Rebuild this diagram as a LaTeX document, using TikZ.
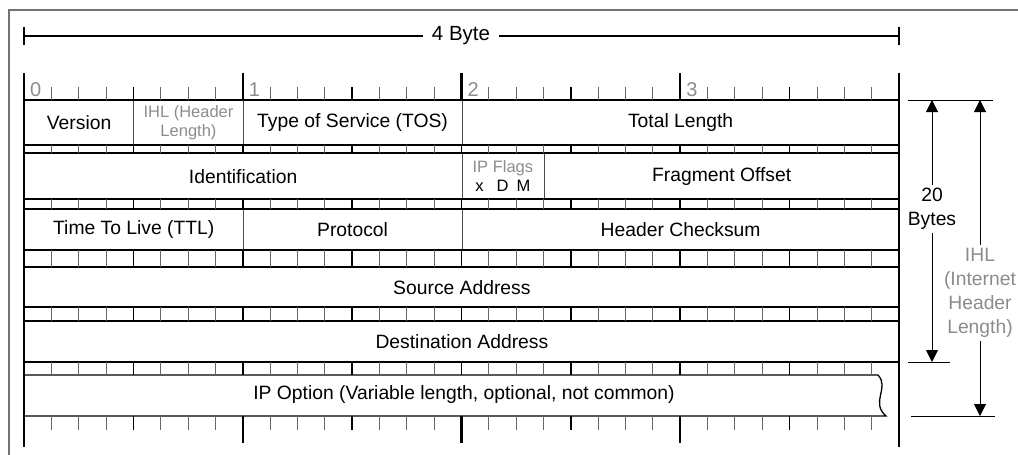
\documentclass[tikz,border=0pt]{standalone}
\usepackage{fontspec}
\setmainfont{Liberation Sans}
\usepackage{tikz}
\usetikzlibrary{arrows.meta}
\usetikzlibrary{positioning}

\newcommand{\bw}{27.34375}
\newcommand{\bitx}[1]{24+#1*\bw}
\newcommand{\fieldbox}[7][]{\node[field,#1,minimum width={#4*\bw},minimum height=#6] (#2) at ({\bitx{#3}},#5) {#7};}

\tikzset{
  field/.style={draw=black!70,line width=0.8pt,inner sep=0pt,anchor=north west,align=center,font=\fontsize{19.3}{22}\selectfont},
  smallt/.style={font=\fontsize{16.5}{19}\selectfont},
  bitno/.style={text=black!45,anchor=base west,inner sep=0pt,font=\fontsize{20}{22}\selectfont},
  tickbit/.style={draw=black!60,line width=0.9pt},
  ticknib/.style={draw=black,line width=1.7pt},
  tickbyte/.style={draw=black,line width=2.3pt},
  rowline/.style={draw=black,line width=1.3pt},
  dimarrow/.style={line width=1pt,{Triangle[width=12pt,length=12pt]}-{Triangle[width=12pt,length=12pt]}},
  dimtext/.style={fill=white,inner sep=3pt,align=center,font=\fontsize{19.3}{24}\selectfont},
}

\begin{document}
\begin{tikzpicture}[x=1pt,y=-1pt]
\useasboundingbox (0,0) rectangle (1018,455);
% frame
\draw[black!55,line width=1.5pt] (9,455) -- (9,10) -- (1018,10);

% width of one word
\coordinate (wl) at (24,36);
\coordinate (wr) at (899,36);
\draw[line width=1.6pt] (wl) -- (wr);
\draw[line width=1.6pt] (24,27) -- (24,45) (899,27) -- (899,45);
\node[dimtext,inner sep=9pt,font=\fontsize{20.5}{24}\selectfont] (wordlen) at (461,36) {4 Byte};

% fields
\fieldbox{version}{0}{4}{100}{45}{Version}
\fieldbox[smallt,text=black!45]{ihl}{4}{4}{100}{45}{IHL (Header\\Length)}
\fieldbox{tos}{8}{8}{100}{45}{Type of Service (TOS)}
\fieldbox{totlen}{16}{16}{100}{45}{Total Length}
\fieldbox{ident}{0}{16}{153}{46}{Identification}
\fieldbox[smallt]{flags}{16}{3}{153}{46}{\textcolor{black!45}{IP Flags}\\x\hspace{13pt}D\hspace{8pt}M}
\fieldbox{fragoff}{19}{13}{153}{46}{Fragment Offset}
\fieldbox{ttl}{0}{8}{209}{41}{Time To Live (TTL)}
\fieldbox{proto}{8}{8}{209}{41}{Protocol}
\fieldbox{hchk}{16}{16}{209}{41}{Header Checksum}
\fieldbox{srcaddr}{0}{32}{267}{40}{Source Address}
\fieldbox{dstaddr}{0}{32}{321}{41}{Destination Address}

% options row, open at the right
\draw[rowline] (24,375) -- (878,375) .. controls (890,388) and (870,402) .. (886,416) -- (24,416);
\node[field,draw=none,anchor=center] (ipopt) at (464,395) {IP Option (Variable length, optional, not common)};

% rows
\foreach \y in {100,145,153,199,209,250,267,307,321,362}
  \draw[rowline] (24,\y) -- (899,\y);

% bit ticks
\foreach \i in {1,...,31} {
  \pgfmathtruncatemacro\m{mod(\i,4)}
  \ifnum\m=0
    \draw[ticknib] ({\bitx{\i}},87) -- ({\bitx{\i}},100);
    \draw[ticknib] ({\bitx{\i}},416) -- ({\bitx{\i}},430);
  \else
    \draw[tickbit] ({\bitx{\i}},87) -- ({\bitx{\i}},100);
    \draw[tickbit] ({\bitx{\i}},416) -- ({\bitx{\i}},430);
  \fi
  \foreach \t/\b in {145/153,199/209,250/267,307/321,362/375} {
    \ifnum\m=0
      \draw[ticknib] ({\bitx{\i}},\t) -- ({\bitx{\i}},\b);
    \else
      \draw[tickbit] ({\bitx{\i}},\t) -- ({\bitx{\i}},\b);
    \fi
  }
}
\foreach \i in {8,16,24} {
  \draw[tickbyte] ({\bitx{\i}},73) -- ({\bitx{\i}},100);
  \draw[tickbyte] ({\bitx{\i}},416) -- ({\bitx{\i}},443);
}
\draw[tickbyte] (24,73) -- (24,447);
\draw[tickbyte] (899,73) -- (899,447);

% byte numbers
\foreach \i/\n in {0/0,8/1,16/2,24/3}
  \node[bitno] (byte\n) at ({\bitx{\i}+6},96) {\n};

% header length
\coordinate (hdrtop) at (932,100);
\coordinate (hdrbot) at (932,362);
\coordinate (ihltop) at (980,100);
\coordinate (ihlbot) at (980,416);
\draw[line width=1pt] (908,100) -- (993,100);
\draw[line width=1pt] (908,362) -- (950,362);
\draw[line width=1pt] (911,416) -- (995,416);
\draw[dimarrow] (hdrtop) -- (hdrbot);
\draw[dimarrow] (ihltop) -- (ihlbot);
\node[dimtext] (bytes20) at (932,209) {20\\Bytes};
\node[dimtext,text=black!45] (ihltext) at (980,293) {IHL\\(Internet\\Header\\Length)};
\end{tikzpicture}
\end{document}
